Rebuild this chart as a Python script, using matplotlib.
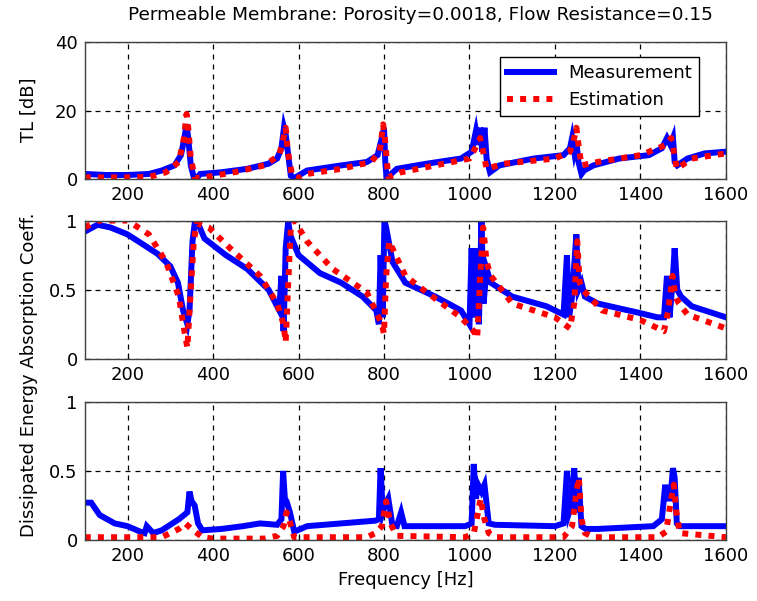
import matplotlib
matplotlib.use('Agg')
import matplotlib.pyplot as plt

plt.rcParams['font.family'] = ['DejaVu Sans']

# --- TL [dB] ---
tl_meas_f = [100, 150, 200, 250, 280, 310, 325, 333, 338, 342, 348, 355, 362, 370, 420, 480, 530, 550, 560, 566, 570, 575, 582, 590,
             620, 700, 760, 785, 795, 800, 803, 806, 830, 900, 980, 1005, 1015, 1020, 1025, 1030, 1035, 1040, 1048, 1070, 1150, 1220,
             1235, 1240, 1245, 1250, 1255, 1262, 1268, 1290, 1350, 1420, 1450, 1462, 1470, 1476, 1480, 1486, 1510, 1550, 1600]
tl_meas = [1.5, 1.2, 1.2, 1.5, 2.5, 4, 7, 12, 16, 12, 4, 0.5, 0.3, 1.5, 2, 3, 4.5, 6, 9, 15, 13, 8, 1, 0.3,
           2.5, 4, 5, 7, 12, 15, 5, 0.3, 3, 4.5, 6, 8, 14, 10, 15, 8, 15, 6, 2, 4, 6, 7,
           9, 12, 8, 11, 5, 1.5, 2.5, 4, 6, 7, 9, 12, 10, 12, 5, 4, 6, 7.5, 8]

tl_est_f = [100, 150, 200, 250, 290, 320, 332, 338, 342, 348, 358, 380, 450, 520, 555, 565, 570, 575, 585, 600,
            620, 700, 770, 790, 798, 802, 810, 840, 920, 1000, 1018, 1025, 1032, 1040, 1080, 1200, 1235, 1245, 1250, 1255, 1262,
            1300, 1400, 1460, 1472, 1478, 1485, 1520, 1600]
tl_est = [0.5, 0.5, 0.5, 0.6, 2, 5, 12, 19, 15, 6, 0.3, 0.5, 2, 4, 7, 12, 15, 8, 1, 0.3,
          1.5, 3, 5, 8, 16, 12, 0.5, 2, 4, 6, 10, 12, 8, 3, 4.5, 6, 8, 12, 15, 10, 4,
          5, 7, 10, 12, 8, 3, 6, 7.5]

# --- Energy Absorption Coeff. ---
ab_meas_f = [100, 130, 160, 200, 240, 270, 300, 318, 330, 340, 345, 352, 358, 362, 380, 430, 480, 530, 555, 560, 565, 570, 576, 580,
             600, 650, 700, 750, 782, 788, 792, 797, 801, 805, 820, 850, 920, 980, 1000, 1005, 1010, 1015, 1022, 1028, 1033, 1040, 1050,
             1100, 1180, 1220, 1228, 1233, 1240, 1250, 1255, 1262, 1270, 1300, 1400, 1440, 1455, 1462, 1468, 1475, 1480, 1486, 1495,
             1520, 1600]
ab_meas = [0.92, 0.97, 0.95, 0.9, 0.82, 0.76, 0.67, 0.55, 0.35, 0.25, 0.35, 0.85, 1.0, 1.0, 0.87, 0.75, 0.65, 0.5, 0.35, 0.6, 0.2, 0.8, 1.0, 0.9,
           0.75, 0.62, 0.55, 0.45, 0.35, 0.25, 0.75, 0.3, 1.0, 0.95, 0.7, 0.55, 0.45, 0.35, 0.25, 0.8, 0.3, 0.8, 0.25, 1.0, 0.4, 0.65, 0.55,
           0.45, 0.38, 0.32, 0.75, 0.3, 0.45, 0.9, 0.5, 0.55, 0.45, 0.4, 0.33, 0.3, 0.3, 0.6, 0.3, 0.55, 0.8, 0.5, 0.45,
           0.38, 0.3]

ab_est_f = [100, 130, 200, 250, 290, 320, 333, 340, 348, 355, 362, 390, 440, 510, 550, 565, 570, 576, 582, 590,
            620, 680, 760, 795, 800, 805, 812, 850, 900, 980, 1010, 1018, 1025, 1032, 1040, 1050, 1100, 1200, 1235, 1245, 1252, 1258,
            1265, 1310, 1400, 1455, 1465, 1475, 1482, 1490, 1510, 1600]
ab_est = [0.95, 1.0, 1.0, 0.9, 0.7, 0.45, 0.2, 0.08, 0.5, 0.85, 0.98, 0.95, 0.8, 0.6, 0.4, 0.25, 0.12, 0.55, 0.95, 1.0,
          0.85, 0.65, 0.48, 0.25, 0.18, 0.6, 0.85, 0.6, 0.48, 0.3, 0.2, 0.15, 0.6, 0.95, 0.7, 0.6, 0.4, 0.3, 0.22, 0.4, 0.85, 0.55,
          0.5, 0.35, 0.28, 0.2, 0.35, 0.6, 0.45, 0.4, 0.32, 0.22]

# --- Dissipated Energy ---
de_meas_f = [100, 115, 135, 170, 200, 230, 240, 245, 260, 280, 320, 340, 345, 350, 357, 365, 375, 420, 470, 510, 550, 560, 564, 568,
             572, 580, 590, 620, 700, 780, 788, 792, 797, 802, 810, 820, 830, 840, 848, 860, 990, 1005, 1010, 1015, 1020, 1028, 1035,
             1045, 1060, 1200, 1220, 1228, 1233, 1238, 1245, 1250, 1255, 1262, 1272, 1300, 1430, 1450, 1458, 1462, 1470, 1476, 1480,
             1485, 1492, 1600]
de_meas = [0.27, 0.27, 0.18, 0.12, 0.1, 0.06, 0.05, 0.1, 0.05, 0.07, 0.15, 0.2, 0.35, 0.28, 0.25, 0.12, 0.07, 0.08, 0.1, 0.12, 0.11, 0.15, 0.5, 0.3,
           0.28, 0.2, 0.06, 0.1, 0.12, 0.14, 0.15, 0.52, 0.2, 0.25, 0.3, 0.1, 0.1, 0.2, 0.1, 0.1, 0.1, 0.12, 0.55, 0.3, 0.4, 0.35, 0.4,
           0.12, 0.11, 0.1, 0.12, 0.5, 0.2, 0.25, 0.52, 0.2, 0.45, 0.1, 0.08, 0.08, 0.1, 0.15, 0.4, 0.3, 0.3, 0.52, 0.45,
           0.12, 0.1, 0.1]

de_est_f = [100, 200, 280, 300, 320, 335, 350, 375, 400, 520, 550, 565, 572, 578, 590, 600, 760, 780, 795, 805, 815, 830,
            990, 1010, 1020, 1026, 1035, 1045, 1060, 1220, 1240, 1250, 1256, 1262, 1270, 1290, 1440, 1460, 1472, 1478, 1484, 1492, 1600]
de_est = [0.02, 0.02, 0.02, 0.05, 0.08, 0.12, 0.08, 0.02, 0.01, 0.01, 0.03, 0.1, 0.2, 0.15, 0.02, 0.02, 0.02, 0.05, 0.1, 0.28, 0.12, 0.03,
          0.02, 0.05, 0.2, 0.3, 0.15, 0.05, 0.02, 0.02, 0.1, 0.35, 0.45, 0.15, 0.05, 0.02, 0.02, 0.06, 0.3, 0.4, 0.2, 0.05, 0.02]

xticks = [200, 400, 600, 800, 1000, 1200, 1400, 1600]

FS = 13


def style_axes(ax, ylim, yticks, yticklabels):
    ax.set_xlim(100, 1600)
    ax.set_ylim(*ylim)
    ax.set_xticks(xticks)
    ax.set_yticks(yticks)
    ax.set_yticklabels(yticklabels)
    ax.tick_params(direction='in', length=4, labelsize=FS, pad=5)
    ax.grid(True, color='black', linestyle=(0, (4, 4)), linewidth=0.9)
    for s in ax.spines.values():
        s.set_linewidth(1.0)
        s.set_color('#404040')


def draw(ax, fm, m, fe, e):
    l1, = ax.plot(fm, m, color='#0000ff', linewidth=4.3, solid_joinstyle='miter')
    l2, = ax.plot(fe, e, color='#ff0000', linewidth=4.3, linestyle=(0, (1, 1.2)), dash_capstyle='butt')
    return l1, l2


fig = plt.figure(figsize=(7.57, 6.01), dpi=100)
ax1 = fig.add_axes([0.112, 0.702, 0.847, 0.228])
ax2 = fig.add_axes([0.112, 0.403, 0.847, 0.230])
ax3 = fig.add_axes([0.112, 0.1015, 0.847, 0.230])

l1, l2 = draw(ax1, tl_meas_f, tl_meas, tl_est_f, tl_est)
style_axes(ax1, (0, 40), [0, 20, 40], ['0', '20', '40'])
ax1.legend([l1, l2], ['Measurement', 'Estimation'], loc='upper right', fontsize=FS,
           fancybox=False, edgecolor='black', framealpha=1, handlelength=2.6,
           borderaxespad=0.6, bbox_to_anchor=(0.975, 0.97))

draw(ax2, ab_meas_f, ab_meas, ab_est_f, ab_est)
style_axes(ax2, (0, 1), [0, 0.5, 1], ['0', '0.5', '1'])

draw(ax3, de_meas_f, de_meas, de_est_f, de_est)
style_axes(ax3, (0, 1), [0, 0.5, 1], ['0', '0.5', '1'])

fig.text(420 / 757, 1 - 15 / 601,
         'Permeable Membrane: Porosity=0.0018, Flow Resistance=0.15',
         ha='center', va='center', fontsize=13.3)
fig.text(0.5 * (85 + 726) / 757, 1 - 580 / 601, 'Frequency [Hz]',
         ha='center', va='center', fontsize=FS)
fig.text(29 / 757, 1 - 110 / 601, 'TL [dB]', rotation=90,
         ha='center', va='center', fontsize=FS)
fig.text(29 / 757, 1 - 375 / 601, 'Dissipated Energy Absorption Coeff.', rotation=90,
         ha='center', va='center', fontsize=FS)

fig.savefig('out.png', dpi=100)
